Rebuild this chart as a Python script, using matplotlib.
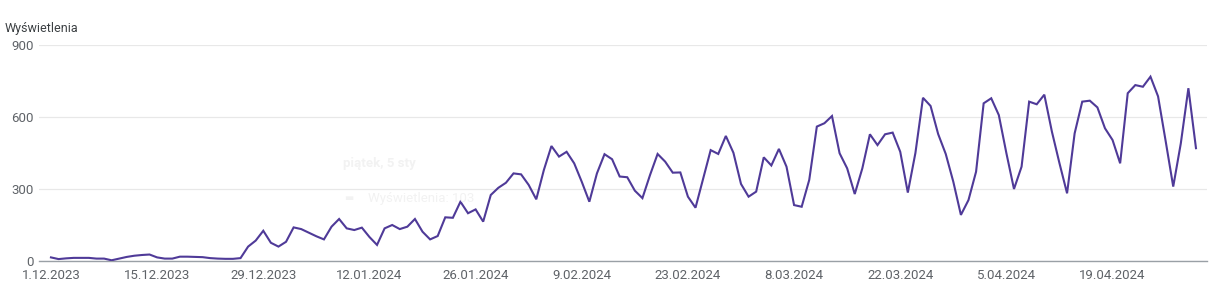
import numpy as np
import pandas as pd
import matplotlib
matplotlib.use('Agg')
import matplotlib.pyplot as plt

# daily impressions, 1.12.2023 - 30.04.2024
start_date = '2023-12-01'
views = [15, 8, 11, 13, 13, 13, 10, 10, 3, 10,
         17, 22, 25, 27, 15, 10, 10, 18, 18, 17,
         16, 12, 10, 9, 9, 12, 60, 85, 126, 76,
         60, 80, 140, 133, 118, 103, 90, 143, 175, 136,
         129, 139, 100, 67, 136, 150, 133, 143, 175, 122,
         90, 104, 182, 180, 247, 199, 215, 164, 275, 305,
         326, 365, 361, 317, 257, 379, 479, 435, 455, 407,
         330, 247, 365, 445, 424, 352, 349, 293, 262, 358,
         446, 414, 368, 369, 268, 222, 342, 462, 446, 521,
         451, 321, 268, 289, 432, 398, 467, 393, 233, 226,
         338, 560, 574, 604, 449, 386, 279, 386, 528, 483,
         528, 535, 455, 285, 450, 680, 646, 529, 446, 330,
         192, 254, 372, 657, 678, 608, 449, 300, 393, 664,
         653, 693, 539, 407, 282, 532, 664, 668, 640, 553,
         504, 407, 699, 733, 726, 768, 686, 500, 310, 490,
         720, 470]
dates = pd.date_range(start_date, periods=len(views), freq='D')
y_ticks = [0, 300, 600, 900]

plt.rcParams['font.family'] = ['Roboto', 'DejaVu Sans']

fig = plt.figure(figsize=(12.22, 3.01), dpi=100)
ax = fig.add_axes([0.0319, 0.1329, 0.9558, 0.7176])

x = np.arange(len(views))
ax.plot(x, views, color='#4f3a98', lw=1.5, solid_joinstyle='miter', zorder=3)

ax.set_xlim(-1.58, len(views) - 1 + 1.45)
ax.set_ylim(0, 900)

ax.set_yticks(y_ticks)
ax.set_yticklabels([str(t) for t in y_ticks])
tick_idx = list(range(0, len(views), 14))
ax.set_xticks(tick_idx)
ax.set_xticklabels([f"{dates[i].day}.{dates[i].month:02d}.{dates[i].year}" for i in tick_idx])

ax.tick_params(axis='both', length=0, labelsize=9.5, labelcolor='#5f6368')
ax.tick_params(axis='y', pad=4)
ax.tick_params(axis='x', pad=6)

ax.grid(axis='y', color='#e8e8e8', lw=0.9)
for s in ['top', 'right', 'left']:
    ax.spines[s].set_visible(False)
ax.spines['bottom'].set_color('#9aa0a6')
ax.spines['bottom'].set_linewidth(1.0)

fig.text(0.004, 0.905, 'Wyświetlenia', fontsize=9, color='#3c4043', va='center')

# faded tooltip left in the screenshot
fig.text(0.281, 0.458, 'piątek, 5 sty', fontsize=9.5, fontweight='bold', color='#f2f2f2', va='center', zorder=0)
fig.text(0.282, 0.342, '▬', fontsize=7, color='#f2f2f2', va='center', zorder=0)
fig.text(0.301, 0.342, 'Wyświetlenia: 103', fontsize=9.5, color='#f2f2f2', va='center', zorder=0)

fig.savefig('out.png', dpi=100)
